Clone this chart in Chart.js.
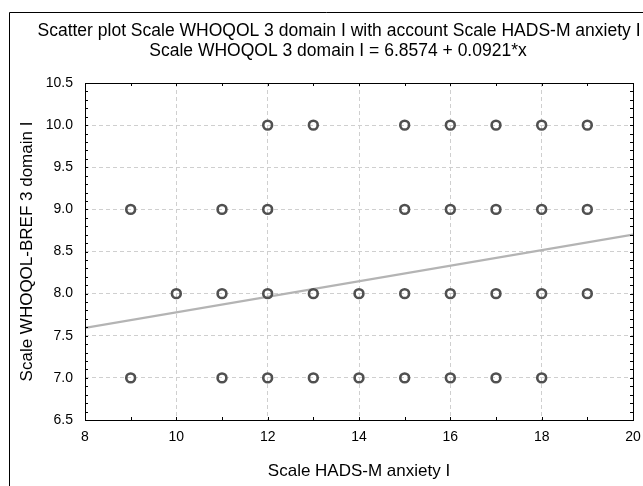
<!DOCTYPE html>
<html>
<head>
<meta charset="utf-8">
<script src="https://cdn.jsdelivr.net/npm/chart.js@4.4.1/dist/chart.umd.min.js"></script>
<style>
  html, body { margin: 0; padding: 0; background: #fff; }
  #wrap { width: 643px; height: 486px; position: relative; }
</style>
</head>
<body>
<div id="wrap"><canvas id="c"></canvas></div>
<script>
const anxiety10 = [12, 13, 15, 16, 17, 18, 19];
const anxiety9 = [9, 11, 12, 15, 16, 17, 18, 19];
const anxiety8 = [10, 11, 12, 13, 14, 15, 16, 17, 18, 19];
const anxiety7 = [9, 11, 12, 13, 14, 15, 16, 17, 18];
const domainLevels = [10, 9, 8, 7];

// Regression from the title: y = 6.8574 + 0.0921*x
const intercept = 6.8574;
const slope = 0.0921;
const xRange = [8, 20];

const titleLines = [
    'Scatter plot Scale WHOQOL 3 domain I with account Scale HADS-M anxiety I',
    'Scale WHOQOL 3 domain I = 6.8574 + 0.0921*x'
];
const xTitle = 'Scale HADS-M anxiety I';
const yTitle = 'Scale WHOQOL-BREF 3 domain I';

const FONT = '"Liberation Sans", Arial, sans-serif';

const points = [];
[anxiety10, anxiety9, anxiety8, anxiety7].forEach(function (xs, i) {
    xs.forEach(function (x) { points.push({ x: x, y: domainLevels[i] }); });
});
const fitLine = xRange.map(function (x) { return { x: x, y: intercept + slope * x }; });

// Frame, inside tick marks, outer border and the two-line heading.
const decorations = {
    id: 'decorations',
    afterDraw(chart) {
        const ctx = chart.ctx;
        const a = chart.chartArea;
        const xs = chart.scales.x, ys = chart.scales.y;
        ctx.save();
        ctx.strokeStyle = '#000';
        ctx.lineWidth = 1;
        // plot frame
        ctx.strokeRect(Math.round(a.left) + 0.5, Math.round(a.top) + 0.5,
            Math.round(a.right - a.left), Math.round(a.bottom - a.top));
        // inner ticks: every 1 on x, every 0.1 on y
        ctx.beginPath();
        for (let v = 9; v < 20; v++) {
            const px = Math.round(xs.getPixelForValue(v)) + 0.5;
            ctx.moveTo(px, a.top); ctx.lineTo(px, a.top + 3);
            ctx.moveTo(px, a.bottom); ctx.lineTo(px, a.bottom - 3);
        }
        for (let k = 66; k < 105; k++) {
            const py = Math.round(ys.getPixelForValue(k / 10)) + 0.5;
            ctx.moveTo(a.left, py); ctx.lineTo(a.left + 3, py);
            ctx.moveTo(a.right, py); ctx.lineTo(a.right - 3, py);
        }
        ctx.stroke();
        // outer border
        ctx.beginPath();
        ctx.moveTo(9.5, chart.height);
        ctx.lineTo(9.5, 12.5);
        ctx.lineTo(chart.width, 12.5);
        ctx.stroke();
        // heading
        ctx.fillStyle = '#000';
        ctx.font = '17.5px ' + FONT;
        ctx.textAlign = 'center';
        ctx.textBaseline = 'middle';
        ctx.fillText(titleLines[0], 339, 31);
        ctx.fillText(titleLines[1], 338, 51);
        ctx.restore();
    }
};

new Chart(document.getElementById('c'), {
    type: 'scatter',
    data: {
        datasets: [
            {
                label: 'fit',
                type: 'line',
                data: fitLine,
                borderColor: '#b4b4b4',
                borderWidth: 2.2,
                pointRadius: 0,
                fill: false,
                order: 2
            },
            {
                label: 'cases',
                data: points,
                pointStyle: 'circle',
                pointRadius: 4.4,
                pointBorderWidth: 2.6,
                borderColor: '#505050',
                backgroundColor: 'rgba(0,0,0,0)',
                order: 1
            }
        ]
    },
    options: {
        responsive: true,
        maintainAspectRatio: false,
        animation: false,
        layout: { padding: { left: 0, right: 10, top: 83, bottom: 0 } },
        plugins: {
            legend: { display: false },
            tooltip: { enabled: false }
        },
        scales: {
            x: {
                type: 'linear',
                min: 8, max: 20,
                afterFit(s) { s.height = 66; },
                ticks: { stepSize: 2, color: '#000', padding: 0, font: { family: FONT, size: 14 } },
                // invisible tick marks only push the labels down, so the right padding stays small
                grid: { color: '#cfcfcf', drawTicks: true, tickLength: 9, tickColor: 'rgba(0,0,0,0)', lineWidth: 1 },
                border: { display: false, dash: [4, 3] },
                title: { display: true, text: xTitle, color: '#000', font: { family: FONT, size: 17 }, padding: { bottom: 4 } }
            },
            y: {
                type: 'linear',
                min: 6.5, max: 10.5,
                afterFit(s) { s.width = 85; },
                ticks: {
                    stepSize: 0.5, color: '#000', padding: 12,
                    font: { family: FONT, size: 14 },
                    callback: function (v) { return Number(v).toFixed(1); }
                },
                grid: { color: '#cfcfcf', drawTicks: false, lineWidth: 1 },
                border: { display: false, dash: [4, 3] },
                title: { display: true, text: yTitle, color: '#000', font: { family: FONT, size: 17 }, padding: { top: 17 } }
            }
        }
    },
    plugins: [decorations]
});
</script>
</body>
</html>
